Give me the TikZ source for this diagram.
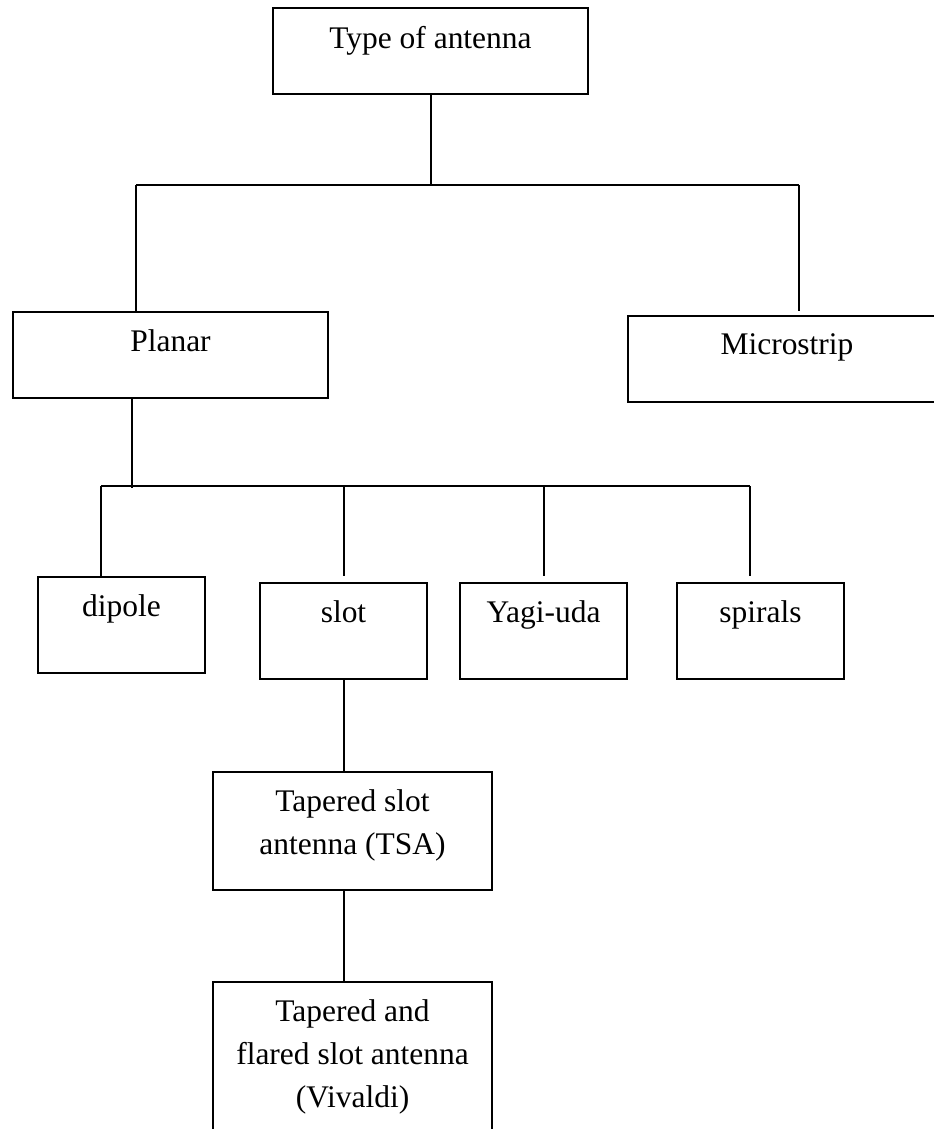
\documentclass[tikz,border=0pt]{standalone}
\usepackage{fontspec}
\setmainfont{Liberation Serif}
\usetikzlibrary{positioning,fit}

\tikzset{
  box/.style={draw, inner sep=0pt},
  lbl/.style={inner sep=0pt, align=center, font=\fontsize{23.6}{32.25}\selectfont},
}

\begin{document}
\begin{tikzpicture}[x=0.75pt, y=-0.75pt, line width=1.5pt]
  \useasboundingbox (0,0) rectangle (934,1129);

  % boxes (corners in pixels)
  \node[box, fit={(273,8) (588,94)}] (type) {};
  \node[box, fit={(13,312) (328,398)}] (planar) {};
  \node[box, fit={(628,316) (946,402)}] (micro) {};
  \node[box, fit={(38,577) (205,673)}] (dipole) {};
  \node[box, fit={(260,583) (427,679)}] (slot) {};
  \node[box, fit={(460,583) (627,679)}] (yagi) {};
  \node[box, fit={(677,583) (844,679)}] (spirals) {};
  \node[box, fit={(213,772) (492,890)}] (tsa) {};
  \node[box, fit={(213,982) (492,1145)}] (vivaldi) {};

  % texts, near the top of each box
  \node[lbl, below=13.5pt of type.north] (type-t) {Type of antenna};
  \node[lbl, below=13.5pt of planar.north] (planar-t) {Planar};
  \node[lbl, below=13.5pt of micro.north] (micro-t) {Microstrip};
  \node[lbl, below=13.5pt of dipole.north] (dipole-t) {dipole};
  \node[lbl, below=13.5pt of slot.north] (slot-t) {slot};
  \node[lbl, below=13.5pt of yagi.north] (yagi-t) {Yagi-uda};
  \node[lbl, below=13.5pt of spirals.north] (spirals-t) {spirals};
  \node[lbl, below=13.5pt of tsa.north] (tsa-t) {Tapered slot\\antenna (TSA)};
  \node[lbl, below=13.5pt of vivaldi.north] (vivaldi-t) {Tapered and\\flared slot antenna\\(Vivaldi)};

  % junctions of the two buses
  \coordinate (busAl) at (136,185);
  \coordinate (busAr) at (799,185);
  \coordinate (busBp) at (132,486);
  \coordinate (busBl) at (101,486);
  \coordinate (busBr) at (750,486);

  % first level
  \draw (type.south) -- (type.south |- busAl);
  \draw (busAl) -- (busAr);
  \draw (busAl) -- (busAl |- planar.north);
  \draw (busAr) -- (busAr |- planar.north);

  % second level
  \draw (planar.south -| busBp) -- ([yshift=-1.5pt]busBp);
  \draw (busBl) -- (busBr);
  \draw (busBl) -- (busBl |- dipole.north);
  \draw (slot.north |- busBl) -- (slot.north |- dipole.north);
  \draw (yagi.north |- busBl) -- (yagi.north |- dipole.north);
  \draw (busBr) -- (busBr |- dipole.north);

  % slot branch
  \draw (slot.south) -- (slot.south |- tsa.north);
  \draw (tsa.south -| slot.south) -- (vivaldi.north -| slot.south);

\end{tikzpicture}
\end{document}
